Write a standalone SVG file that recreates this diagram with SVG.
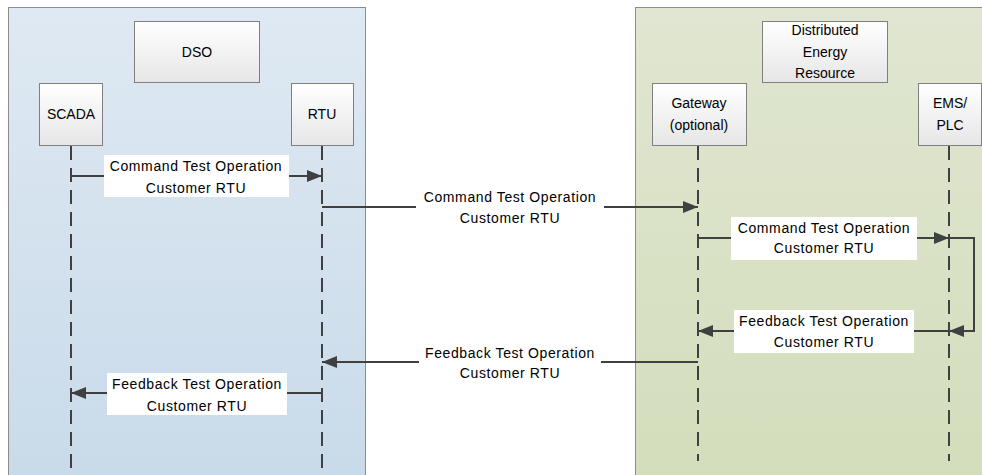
<svg xmlns="http://www.w3.org/2000/svg" width="982" height="475" viewBox="0 0 982 475">
<defs>
<linearGradient id="gBlue" x1="0" y1="0" x2="0" y2="1"><stop offset="0" stop-color="#dfe9f3"/><stop offset="1" stop-color="#c8dae9"/></linearGradient>
<linearGradient id="gGreen" x1="0" y1="0" x2="0" y2="1"><stop offset="0" stop-color="#e0e6d1"/><stop offset="1" stop-color="#d3ddbb"/></linearGradient>
<linearGradient id="gBox" x1="0" y1="0" x2="0" y2="1"><stop offset="0" stop-color="#ffffff"/><stop offset="1" stop-color="#e6e6e6"/></linearGradient>
<marker id="ah" markerUnits="userSpaceOnUse" markerWidth="15" markerHeight="12" refX="15" refY="6" orient="auto"><path d="M0,0 L15,6 L0,12 Z" fill="#404040"/></marker>
<style>
.panel{stroke:#8c8c8c;stroke-width:1}
.box{fill:url(#gBox);stroke:#7f7f7f;stroke-width:1}
.t{font-family:"Liberation Sans",Arial,sans-serif;font-size:14px;fill:#000;text-anchor:middle}
.lt{font-family:"Liberation Sans",Arial,sans-serif;font-size:14px;fill:#000;text-anchor:middle;letter-spacing:0.6px}
.life{stroke:#404040;stroke-width:2;stroke-dasharray:14 8;fill:none}
.msg{stroke:#404040;stroke-width:2;fill:none}
.lbg{fill:#ffffff}
</style>
</defs>
<rect x="0" y="0" width="982" height="475" fill="#ffffff"/>
<g id="panel-dso"><rect class="panel" x="8.5" y="7.5" width="357" height="480" fill="url(#gBlue)"/></g>
<g id="panel-der"><rect class="panel" x="635.5" y="7.5" width="360" height="480" fill="url(#gGreen)"/></g>
<g id="dso"><rect class="box" x="134.5" y="21.5" width="125" height="61"/><text class="t" x="197" y="57">DSO</text></g>
<g id="scada"><rect class="box" x="39.5" y="83.5" width="63" height="62"/><text class="t" x="71" y="119">SCADA</text></g>
<g id="rtu"><rect class="box" x="291.5" y="83.5" width="62" height="62"/><text class="t" x="322" y="119">RTU</text></g>
<g id="der"><rect class="box" x="762.5" y="21.5" width="125" height="61"/><text class="t" x="825" y="35">Distributed</text><text class="t" x="825" y="57">Energy</text><text class="t" x="825" y="78">Resource</text></g>
<g id="gateway"><rect class="box" x="652.5" y="83.5" width="94" height="62"/><text class="t" x="699" y="108">Gateway</text><text class="t" x="699" y="130">(optional)</text></g>
<g id="ems"><rect class="box" x="918.5" y="83.5" width="63" height="62"/><text class="t" x="950" y="108">EMS/</text><text class="t" x="950" y="130">PLC</text></g>
<g id="lifelines">
<line class="life" x1="71" y1="146" x2="71" y2="475"/>
<line class="life" x1="322" y1="146" x2="322" y2="475"/>
<line class="life" x1="698" y1="146" x2="698" y2="461"/>
<line class="life" x1="949" y1="146" x2="949" y2="461"/>
</g>
<g id="connectors">
<line class="msg" x1="71" y1="176" x2="322" y2="176" marker-end="url(#ah)"/>
<line class="msg" x1="322" y1="207" x2="698" y2="207" marker-end="url(#ah)"/>
<line class="msg" x1="698" y1="238" x2="949" y2="238" marker-end="url(#ah)"/>
<polyline class="msg" points="949,238 974,238 974,331 949,331" marker-end="url(#ah)"/>
<line class="msg" x1="949" y1="331" x2="698" y2="331" marker-end="url(#ah)"/>
<line class="msg" x1="698" y1="362" x2="322" y2="362" marker-end="url(#ah)"/>
<line class="msg" x1="322" y1="393" x2="71" y2="393" marker-end="url(#ah)"/>
</g>
<g id="labels">
<rect class="lbg" x="104" y="155" width="185" height="42"/>
<text class="lt" x="196" y="171">Command Test Operation</text><text class="lt" x="196" y="193">Customer RTU</text>
<rect class="lbg" x="416" y="188" width="188" height="42"/>
<text class="lt" x="510" y="202">Command Test Operation</text><text class="lt" x="510" y="223">Customer RTU</text>
<rect class="lbg" x="731" y="217" width="186" height="43"/>
<text class="lt" x="824" y="233">Command Test Operation</text><text class="lt" x="824" y="253">Customer RTU</text>
<rect class="lbg" x="734" y="310" width="180" height="43"/>
<text class="lt" x="824" y="326">Feedback Test Operation</text><text class="lt" x="824" y="347">Customer RTU</text>
<rect class="lbg" x="419" y="343" width="182" height="42"/>
<text class="lt" x="510" y="358">Feedback Test Operation</text><text class="lt" x="510" y="378">Customer RTU</text>
<rect class="lbg" x="107" y="373" width="180" height="42"/>
<text class="lt" x="197" y="389">Feedback Test Operation</text><text class="lt" x="197" y="411">Customer RTU</text>
</g>
</svg>
